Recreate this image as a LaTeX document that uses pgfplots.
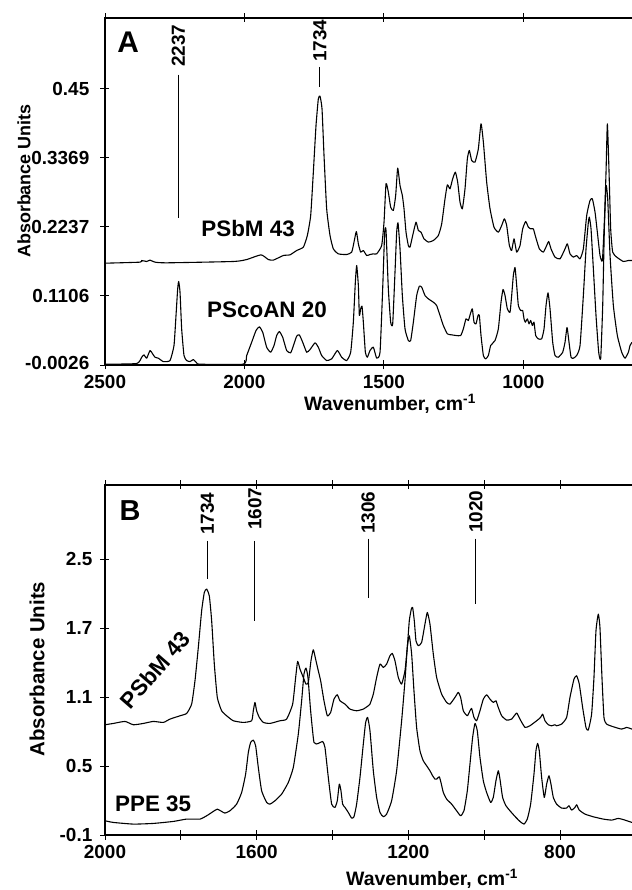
\documentclass[border=0pt]{standalone}
\usepackage{fontspec}
\setmainfont{Liberation Sans}
\usepackage{pgfplots}
\pgfplotsset{compat=1.18}
\newcommand{\fs}[1]{\fontsize{#1}{#1}\selectfont\bfseries}
\pgfplotsset{
  spec/.style={
    scale only axis, x dir=reverse, xmin=400,
    axis line style={line width=1.1bp, black},
    tick style={line width=0.9bp, black},
    tick align=center, major tick length=9bp,
    minor tick num=0,
    yticklabel style={font=\fs{19}, anchor=east, inner sep=0pt},
    xticklabel style={font=\fs{19}, anchor=north, inner sep=0pt},
    every axis plot/.append style={line width=1.1bp, black, line join=round, mark=none},
    clip=true,
  },
  sp/.style={smooth, tension=0.3},
}
\begin{document}
\begin{tikzpicture}[x=1bp,y=1bp]
\useasboundingbox (0,0) rectangle (632,890);
%================ Panel A =================
\begin{axis}[spec,
  at={(105bp,525bp)}, anchor=south west,
  width=585.7bp, height=347bp,
  xmax=2500, ymin=-0.0026, ymax=0.566,
  xtick={2500,2000,1500,1000,500},
  xticklabels={2500,2000,1500,1000,{}},
  ytick={-0.0026,0.1106,0.2237,0.3369,0.45},
  yticklabels={\raisebox{4bp}{-0.0026},0.1106,0.2237,0.3369,0.45\hspace{15bp}},
  yticklabel shift=11bp, xticklabel shift=6bp,
  xlabel={\fs{19.5}Wavenumber, cm\textsuperscript{-1}},
  xlabel style={at={(axis description cs:0.4866,0)}, anchor=center, yshift=-39bp},
  ylabel={\fs{18}Absorbance Units},
  ylabel style={at={(axis description cs:0,0.53)}, anchor=center, yshift=81bp},
]
% PSbM 43
\addplot[sp] coordinates {
(2500,0.1642) (2374.5,0.1659) (2368.5,0.1686) (2350.6,0.1670) (2338.6,0.1692) (2320.7,0.1659) (2278.9,0.1648)
(2039.8,0.1670) (1992.0,0.1702) (1940.6,0.1779) (1914.3,0.1702) (1896.4,0.1692) (1860.5,0.1768) (1836.6,0.1779)
(1812.7,0.1850) (1788.8,0.1905) (1774.5,0.2096) (1762.5,0.2424) (1753.0,0.3134) (1743.4,0.3899) (1735.1,0.4336)
(1729.1,0.4380) (1721.9,0.4172) (1714.7,0.3407) (1705.2,0.2533) (1693.2,0.2096) (1681.3,0.1877) (1663.3,0.1795)
(1633.5,0.1784) (1615.5,0.1823) (1607.2,0.1987) (1598.8,0.2161) (1591.6,0.1959) (1583.3,0.1823) (1573.7,0.1850)
(1561.8,0.1768) (1549.8,0.1784) (1537.8,0.1795) (1525.9,0.1795) (1508.0,0.1932) (1499.6,0.2314) (1492.4,0.2943)
(1484.1,0.2806) (1475.7,0.2560) (1466.1,0.2506) (1457.8,0.2752) (1450.6,0.3200) (1442.2,0.2915) (1433.9,0.2752)
(1427.9,0.2533) (1420.7,0.2150) (1412.4,0.1932) (1406.4,0.1905) (1396.8,0.2096) (1384.9,0.2314) (1376.5,0.2178)
(1366.9,0.2150) (1356.2,0.2041) (1340.6,0.1987) (1322.7,0.2014) (1304.8,0.2096) (1292.8,0.2287) (1280.9,0.2697)
(1272.5,0.2926) (1263.0,0.2861) (1253.4,0.3025) (1243.8,0.3134) (1235.5,0.2970) (1227.1,0.2642) (1218.7,0.2533)
(1209.2,0.2861) (1200.8,0.3353) (1193.6,0.3489) (1185.3,0.3325) (1173.3,0.3298) (1161.4,0.3516) (1151.8,0.3926)
(1143.4,0.3626) (1131.5,0.2970) (1119.5,0.2533) (1105.2,0.2232) (1089.7,0.2150) (1077.7,0.2260) (1068.1,0.2369)
(1059.8,0.2260) (1050.2,0.1932) (1041.9,0.1850) (1033.5,0.2041) (1023.9,0.1823) (1012.0,0.1932) (1002.4,0.2205)
(991.6,0.2325) (982.1,0.2232) (973.7,0.2205) (964.2,0.2205) (955.8,0.2069) (942.6,0.1877) (928.3,0.1823)
(916.4,0.1932) (909.2,0.1998) (900.8,0.1877) (886.5,0.1741) (868.5,0.1713) (850.6,0.1877) (842.2,0.1959)
(832.7,0.1795) (820.7,0.1741) (808.8,0.1768) (796.8,0.1713) (784.9,0.1877) (772.9,0.2424) (761.0,0.2670)
(752.6,0.2697) (743.0,0.2478) (734.7,0.2150) (725.1,0.1768) (716.7,0.1686) (709.6,0.2314) (703.6,0.3134)
(698.8,0.3926) (692.8,0.3134) (686.9,0.2205) (679.7,0.1823) (665.3,0.1741) (641.4,0.1670) (623.5,0.1686) (610.3,0.1686)
};
% PScoAN 20
\addplot[sp] coordinates {
(2500,-0.0013) (2386.4,-0.0002) (2368.5,0.0101) (2360.1,0.0140) (2350.6,0.0085) (2338.6,0.0211) (2329.1,0.0156)
(2320.7,0.0101) (2308.7,0.0085) (2290.8,0.0030) (2266.9,0.0047) (2252.6,0.0293) (2245.4,0.0785) (2239.4,0.1222)
(2235.8,0.1342) (2231.0,0.1167) (2225.1,0.0566) (2216.7,0.0129) (2207.2,0.0047) (2195.2,0.0030) (2183.3,0.0063)
(2171.3,0.0009) (2159.3,-0.0013) (2004.0,-0.0013) (1992.0,0.0129) (1974.1,0.0347) (1958.5,0.0539) (1946.6,0.0599)
(1934.6,0.0511) (1920.3,0.0265) (1906.0,0.0183) (1894.0,0.0293) (1884.4,0.0457) (1874.9,0.0522) (1862.9,0.0429)
(1848.6,0.0211) (1834.2,0.0173) (1822.3,0.0320) (1812.7,0.0446) (1803.2,0.0468) (1791.2,0.0347) (1776.9,0.0183)
(1764.9,0.0227) (1747.0,0.0336) (1735.1,0.0265) (1723.1,0.0129) (1705.2,0.0047) (1687.2,0.0074) (1666.9,0.0211)
(1651.4,0.0101) (1633.5,0.0047) (1619.1,0.0183) (1609.6,0.0675) (1602.4,0.1331) (1597.6,0.1604) (1591.6,0.1276)
(1588.0,0.0785) (1583.3,0.0894) (1578.5,0.0938) (1573.7,0.0675) (1566.5,0.0183) (1559.4,0.0101) (1549.8,0.0211)
(1537.8,0.0265) (1525.9,0.0085) (1513.9,0.0183) (1504.4,0.1222) (1497.2,0.2150) (1492.4,0.2178) (1484.1,0.1222)
(1475.7,0.0675) (1468.5,0.0648) (1460.2,0.1495) (1454.2,0.2150) (1449.4,0.2303) (1442.2,0.1877) (1433.9,0.1112)
(1424.3,0.0566) (1412.4,0.0375) (1404.0,0.0375) (1394.4,0.0675) (1382.5,0.1112) (1372.9,0.1265) (1364.5,0.1249)
(1352.6,0.1112) (1340.6,0.1058) (1322.7,0.1003) (1310.8,0.0948) (1298.8,0.0785) (1286.9,0.0621) (1272.5,0.0484)
(1257.0,0.0468) (1241.4,0.0457) (1224.7,0.0457) (1215.1,0.0566) (1205.6,0.0730) (1197.2,0.0703) (1188.9,0.0828)
(1182.9,0.0894) (1176.9,0.0675) (1169.7,0.0648) (1162.6,0.0785) (1157.8,0.0785) (1151.8,0.0457) (1143.4,0.0129)
(1135.1,0.0074) (1125.5,0.0129) (1117.1,0.0293) (1101.6,0.0375) (1089.7,0.0566) (1080.1,0.1003) (1072.9,0.1211)
(1065.7,0.1112) (1057.4,0.0894) (1047.8,0.0839) (1041.9,0.1112) (1035.9,0.1440) (1029.9,0.1571) (1023.9,0.1276)
(1017.9,0.0948) (1009.6,0.0866) (1002.4,0.0866) (997.6,0.0730) (992.8,0.0675) (985.7,0.0730) (979.7,0.0648)
(973.7,0.0703) (967.7,0.0621) (961.8,0.0675) (955.8,0.0457) (946.2,0.0402) (934.3,0.0402) (925.9,0.0566)
(918.7,0.0948) (911.6,0.1156) (904.4,0.0894) (894.8,0.0347) (886.5,0.0129) (874.5,0.0101) (859.0,0.0183)
(850.6,0.0347) (843.4,0.0588) (836.3,0.0347) (829.1,0.0101) (820.7,0.0085) (808.8,0.0129) (796.8,0.0293)
(784.9,0.1112) (775.3,0.1877) (766.9,0.2314) (763.4,0.2396) (757.4,0.2205) (749.0,0.1549) (739.5,0.0785)
(729.9,0.0183) (722.7,0.0085) (715.5,0.0948) (709.6,0.2205) (703.6,0.2915) (697.6,0.2697) (689.2,0.1768)
(677.3,0.0948) (663.0,0.0457) (647.4,0.0183) (635.5,0.0085) (623.5,0.0183) (617.5,0.0293) (610.3,0.0347)
};
% marker lines
\addplot[line width=0.8bp] coordinates {(2237,0.473) (2237,0.2386)};
\addplot[line width=1bp] coordinates {(1730,0.486) (1730,0.453)};
\node[font=\fs{19}, rotate=90] at (axis cs:2237,0.5205) {2237};
\node[font=\fs{19}, rotate=90] at (axis cs:1730,0.5287) {1734};
\node[font=\fs{30}] at (axis cs:2417,0.527) {A};
\node[font=\fs{22.5}] at (axis cs:1987,0.2205) {PSbM 43};
\node[font=\fs{22.5}] at (axis cs:1919,0.0878) {PScoAN 20};
\end{axis}
%================ Panel B =================
\begin{axis}[spec,
  at={(105bp,55bp)}, anchor=south west,
  width=606.7bp, height=350bp,
  xmax=2000, ymin=-0.1, ymax=2.944,
  xtick={2000,1800,1600,1400,1200,1000,800,600,400},
  xticklabels={2000,{},1600,{},1200,{},800,{},{}},
  ytick={-0.1,0.5,1.1,1.7,2.3},
  yticklabels={-0.1,0.5,1.1,1.7,2.5},
  yticklabel shift=8bp, xticklabel shift=6bp,
  xlabel={\fs{19.5}Wavenumber, cm\textsuperscript{-1}},
  xlabel style={at={(axis description cs:0.539,0)}, anchor=center, yshift=-44bp},
  ylabel={\fs{20.5}Absorbance Units},
  ylabel style={at={(axis description cs:0,0.474)}, anchor=center, yshift=68bp},
]
% PSbM 43
\addplot[sp] coordinates {
(2000.0,0.8587) (1978.0,0.8702) (1947.3,0.8877) (1925.3,0.8587) (1898.9,0.8702) (1872.6,0.8877) (1846.2,0.8790)
(1828.6,0.9079) (1802.2,0.9369) (1784.7,0.9572) (1771.5,1.0384) (1762.7,1.2413) (1753.9,1.5312) (1745.1,1.8501)
(1738.1,2.0096) (1731.9,2.0386) (1724.9,1.9806) (1718.7,1.7632) (1711.7,1.3863) (1703.8,1.0964) (1692.4,0.9804)
(1679.2,0.9369) (1661.6,0.8935) (1635.2,0.8790) (1613.2,0.8935) (1608.9,0.9804) (1604.5,1.0529) (1600.1,0.9804)
(1593.0,0.9224) (1582.5,0.8790) (1564.9,0.8702) (1538.6,0.8935) (1521.0,0.9079) (1505.1,1.0384) (1497.2,1.2703)
(1492.0,1.4095) (1485.8,1.3428) (1477.0,1.2703) (1470.0,1.2124) (1463.8,1.2268) (1456.8,1.4153) (1450.6,1.5109)
(1443.6,1.4153) (1437.5,1.3283) (1431.3,1.2413) (1422.5,1.0674) (1413.7,0.9369) (1404.9,0.9659) (1396.1,1.0819)
(1387.4,1.1196) (1380.3,1.0674) (1367.1,1.0384) (1354.0,0.9949) (1336.4,0.9804) (1318.8,0.9949) (1305.6,1.0239)
(1301.2,1.0384) (1292.4,1.1254) (1283.6,1.2703) (1274.8,1.3863) (1266.0,1.3573) (1257.3,1.3863) (1248.5,1.4588)
(1242.3,1.4790) (1235.3,1.4153) (1226.5,1.2703) (1217.7,1.2124) (1208.9,1.3283) (1202.8,1.5312) (1197.5,1.7632)
(1192.2,1.8646) (1188.7,1.8791) (1184.3,1.7632) (1179.9,1.5892) (1173.7,1.5457) (1165.0,1.5747) (1156.2,1.7342)
(1150.0,1.8356) (1143.0,1.7342) (1134.2,1.4733) (1125.4,1.2703) (1112.2,1.1254) (1099.0,1.0529) (1090.2,1.0384)
(1077.1,1.0964) (1068.3,1.1399) (1062.1,1.0964) (1055.1,0.9804) (1044.5,0.9369) (1037.5,0.9804) (1033.1,1.0007)
(1026.9,0.9224) (1019.9,0.8935) (1011.1,0.9804) (1002.3,1.0819) (993.6,1.1196) (984.8,1.0819) (976.0,1.0529)
(969.0,1.0674) (962.8,1.0094) (954.0,0.9369) (940.8,0.8992) (927.6,0.9079) (914.4,0.9601) (905.7,0.9079)
(892.4,0.8355) (879.3,0.8500) (861.7,0.8935) (851.2,0.9224) (845.9,0.9514) (839.7,0.8935) (830.9,0.8587)
(822.2,0.8500) (813.4,0.8587) (809.0,0.8500) (795.8,0.8645) (782.6,0.9224) (773.8,1.0964) (763.2,1.2558)
(756.2,1.2848) (749.2,1.2124) (740.4,1.0094) (731.6,0.8355) (725.5,0.8123) (716.7,0.9514) (710.5,1.2703)
(705.2,1.6762) (699.1,1.8211) (694.7,1.7052) (689.4,1.2703) (684.1,0.9224) (677.1,0.8645) (659.5,0.8413)
(637.6,0.8210) (624.4,0.8355) (610.3,0.8210)
};
% PPE 35
\addplot[sp] coordinates {
(2000.0,0.0238) (1978.0,0.0093) (1925.3,-0.0052) (1872.6,0.0006) (1819.8,0.0180) (1784.7,0.0383) (1749.5,0.0383)
(1731.9,0.0672) (1714.3,0.1049) (1703.8,0.1252) (1692.4,0.1049) (1683.6,0.0904) (1670.4,0.1107) (1652.8,0.1687)
(1639.6,0.2702) (1629.1,0.4296) (1622.0,0.6181) (1615.9,0.7051) (1608.8,0.7253) (1602.7,0.6761) (1595.7,0.4876)
(1586.9,0.2847) (1573.7,0.1832) (1564.9,0.1687) (1551.7,0.1977) (1534.1,0.2557) (1516.6,0.3571) (1503.4,0.4876)
(1490.2,0.7775) (1481.4,1.0674) (1475.3,1.2993) (1470.0,1.3515) (1464.7,1.2703) (1457.7,0.9804) (1448.9,0.7051)
(1437.5,0.6963) (1426.0,0.7137) (1419.9,0.6616) (1411.1,0.4006) (1402.3,0.1687) (1393.5,0.1397) (1387.4,0.1977)
(1382.1,0.3426) (1377.7,0.2847) (1373.3,0.1687) (1367.1,0.1397) (1358.4,0.0962) (1349.6,0.0470) (1343.4,0.0586)
(1336.4,0.1687) (1327.6,0.4006) (1318.8,0.6905) (1312.6,0.8790) (1307.4,0.9224) (1301.2,0.8065) (1292.4,0.4586)
(1283.6,0.2267) (1274.8,0.0962) (1266.0,0.0586) (1257.3,0.0817) (1244.1,0.1977) (1230.9,0.4586) (1217.7,0.8935)
(1208.9,1.2413) (1202.8,1.5312) (1197.5,1.6327) (1191.3,1.4733) (1185.2,1.1544) (1178.2,0.8355) (1169.4,0.6325)
(1160.6,0.5456) (1151.8,0.5021) (1143.0,0.4586) (1136.0,0.4151) (1129.8,0.3861) (1125.4,0.3861) (1118.4,0.4064)
(1114.0,0.3571) (1107.8,0.2702) (1099.0,0.2122) (1085.9,0.1687) (1072.7,0.1107) (1062.1,0.0672) (1053.3,0.1107)
(1044.5,0.2847) (1037.5,0.5166) (1030.5,0.7485) (1024.3,0.8702) (1018.2,0.8065) (1011.1,0.5746) (1002.3,0.3716)
(993.6,0.2702) (983.0,0.1832) (976.0,0.2267) (969.0,0.3716) (962.8,0.4586) (958.4,0.3861) (951.4,0.2267)
(942.6,0.1542) (932.0,0.1107) (918.8,0.0615) (905.7,0.0180) (895.1,-0.0052) (886.3,0.0383) (877.5,0.1687)
(868.7,0.4296) (863.5,0.6325) (859.1,0.6963) (854.7,0.6325) (848.5,0.4006) (841.5,0.2267) (835.3,0.3426)
(829.2,0.4151) (823.9,0.3426) (817.7,0.2267) (809.0,0.1687) (795.8,0.1339) (782.6,0.1339) (776.4,0.1542)
(769.4,0.1165) (760.6,0.1397) (756.2,0.1629) (749.2,0.1165) (734.2,0.0817) (712.3,0.0586) (685.9,0.0383)
(663.9,0.0296) (646.3,0.0441) (628.8,0.0296) (610.3,0.0093)
};
% marker lines
\addplot[line width=0.8bp] coordinates {(1730,2.459) (1730,2.129)};
\addplot[line width=0.8bp] coordinates {(1605,2.459) (1605,1.763)};
\addplot[line width=0.8bp] coordinates {(1306,2.477) (1306,1.963)};
\addplot[line width=0.8bp] coordinates {(1022,2.477) (1022,1.911)};
\node[font=\fs{19}, rotate=90] at (axis cs:1730,2.694) {1734};
\node[font=\fs{19}, rotate=90] at (axis cs:1605,2.737) {1607};
\node[font=\fs{19}, rotate=90] at (axis cs:1306,2.703) {1306};
\node[font=\fs{19}, rotate=90] at (axis cs:1022,2.711) {1020};
\node[font=\fs{29}] at (axis cs:1934,2.72) {B};
\node[font=\fs{22.5}, rotate=49] at (axis cs:1868,1.337) {PSbM 43};
\node[font=\fs{22.5}] at (axis cs:1873,0.172) {PPE 35};
\end{axis}
\end{tikzpicture}
\end{document}
